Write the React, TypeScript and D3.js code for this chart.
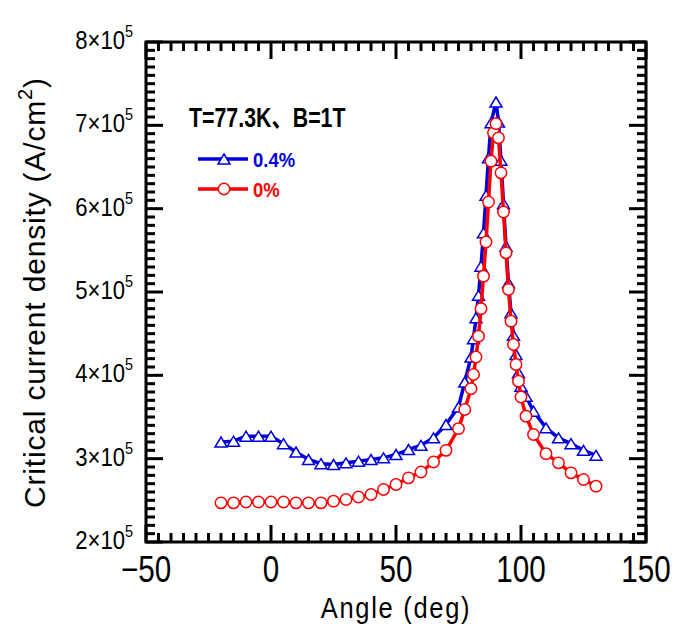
import React from "react";
import * as d3 from "d3";

// Series 0.4% (blue triangles), values in units of 10^5 A/cm^2
const angles04 = [-20, -15, -10, -5, 0, 5, 10, 15, 20, 25, 30, 35, 40, 45, 50, 55, 60, 65, 70, 75, 77.5, 80, 81, 82, 83, 84, 85, 86, 87, 88, 90, 91, 92, 93, 94, 95, 96, 97, 98, 99, 100, 102, 105, 110, 115, 120, 125, 130];
const jc04 = [3.20, 3.21, 3.27, 3.27, 3.27, 3.18, 3.08, 2.99, 2.94, 2.93, 2.95, 2.97, 2.99, 3.01, 3.05, 3.11, 3.16, 3.25, 3.41, 3.62, 3.92, 4.22, 4.44, 4.69, 4.96, 5.31, 5.71, 6.16, 6.61, 7.03, 7.28, 7.04, 6.58, 6.06, 5.55, 5.11, 4.75, 4.48, 4.25, 4.03, 3.87, 3.75, 3.57, 3.37, 3.25, 3.18, 3.10, 3.04];

// Series 0% (red circles)
const angles0 = [-20, -15, -10, -5, 0, 5, 10, 15, 20, 25, 30, 35, 40, 45, 50, 55, 60, 65, 70, 75, 77.5, 80, 81, 82, 83, 84, 85, 86, 87, 88, 89, 90, 91, 92, 93, 94, 95, 96, 97, 98, 99, 100, 102, 105, 110, 115, 120, 125, 130];
const jc0 = [2.47, 2.47, 2.48, 2.48, 2.48, 2.48, 2.47, 2.47, 2.47, 2.49, 2.51, 2.54, 2.57, 2.63, 2.69, 2.77, 2.84, 2.96, 3.10, 3.36, 3.59, 3.84, 4.01, 4.22, 4.47, 4.80, 5.19, 5.60, 6.08, 6.57, 6.91, 7.02, 6.85, 6.43, 5.96, 5.47, 5.03, 4.65, 4.37, 4.13, 3.93, 3.74, 3.51, 3.29, 3.06, 2.95, 2.83, 2.75, 2.67];

const xTicks = [-50, 0, 50, 100, 150];
const yTicks = [2, 3, 4, 5, 6, 7, 8];
const seriesLabels = ["0.4%", "0%"];
const annotation = "T=77.3K、B=1T";
const xTitle = "Angle (deg)";
const yTitleMain = "Critical current density (A/cm";
const yTitleSup = "2";
const yTitleEnd = ")";

const BLUE = "#0000d8";
const RED = "#ff0000";
const FONT = "'Liberation Sans Narrow', 'Liberation Sans', 'Noto Sans CJK JP', sans-serif";

const W = 681;
const H = 627;
const L = 146, R = 646, T = 42, B = 542;

export default function App() {
  const x = d3.scaleLinear().domain([-50, 150]).range([L, R]);
  const y = d3.scaleLinear().domain([2, 8]).range([B, T]);

  const line = d3.line<[number, number]>().x(d => x(d[0])).y(d => y(d[1]));
  const blueData: [number, number][] = angles04.map((a, i) => [a, jc04[i]]);
  const redData: [number, number][] = angles0.map((a, i) => [a, jc0[i]]);

  const xMinor = d3.range(-50, 150.001, 5);
  const yMinor = d3.range(2, 8.0001, 0.1);
  const isMajorX = (v: number) => Math.abs(v % 50) < 1e-6;
  const isMajorY = (v: number) => Math.abs(v - Math.round(v)) < 1e-6;

  const MAJ = 17, MIN = 9;

  const tri = (cx: number, cy: number, w = 12, h = 10) =>
    `M${cx},${cy - h / 2}L${cx + w / 2},${cy + h / 2}L${cx - w / 2},${cy + h / 2}Z`;

  return (
    <svg width={W} height={H} style={{ position: "absolute", left: 0, top: 0, background: "#fff" }}>
      <rect x={0} y={0} width={W} height={H} fill="#fff" />
      {/* ticks */}
      <g stroke="#000" strokeWidth={3}>
        {xMinor.map((v, i) => {
          const len = isMajorX(v) ? MAJ : MIN;
          const px = x(v);
          return (
            <g key={"xt" + i}>
              <line x1={px} x2={px} y1={B} y2={B - len} />
              <line x1={px} x2={px} y1={T} y2={T + len} />
            </g>
          );
        })}
        {yMinor.map((v, i) => {
          const len = isMajorY(v) ? MAJ : MIN;
          const py = y(v);
          return (
            <g key={"yt" + i}>
              <line x1={L} x2={L + len} y1={py} y2={py} />
              <line x1={R} x2={R - len} y1={py} y2={py} />
            </g>
          );
        })}
      </g>
      <rect x={L} y={T} width={R - L} height={B - T} fill="none" stroke="#000" strokeWidth={3} />

      {/* x tick labels */}
      {xTicks.map(v => (
        <text key={"xl" + v} transform={`translate(${x(v)},582) scale(0.8,1)`} textAnchor="middle" fontFamily={FONT} fontSize={37} fill="#000">
          {v < 0 ? "\u2212" + Math.abs(v) : String(v)}
        </text>
      ))}
      {/* y tick labels */}
      {yTicks.map(v => (
        <text key={"yl" + v} transform={`translate(133,${y(v) + 7}) scale(0.85,1)`} textAnchor="end" fontFamily={FONT} fontSize={26} fill="#000">
          <tspan>{v + "×10"}</tspan>
          <tspan dy={-12} fontSize={17}>5</tspan>
        </text>
      ))}

      {/* axis titles */}
      <text transform={`translate(${(L + R) / 2},618) scale(0.85,1)`} textAnchor="middle" fontFamily={FONT} fontSize={30} fill="#000"
        letterSpacing={2}>{xTitle}</text>
      <text transform={`translate(45,${(T + B) / 2 + 1}) rotate(-90)`} textAnchor="middle" fontFamily={FONT}
        fontSize={30} fill="#000" textLength={430} lengthAdjust="spacing">
        <tspan>{yTitleMain}</tspan>
        <tspan dy={-13} fontSize={20}>{yTitleSup}</tspan>
        <tspan dy={13}>{yTitleEnd}</tspan>
      </text>

      {/* series 0.4% */}
      <path d={line(blueData) || ""} fill="none" stroke={BLUE} strokeWidth={3.5} strokeLinejoin="round" />
      {blueData.map((d, i) => (
        <path key={"b" + i} d={tri(x(d[0]), y(d[1]))} fill="#fff" stroke={BLUE} strokeWidth={1.5} />
      ))}
      {/* series 0% */}
      <path d={line(redData) || ""} fill="none" stroke={RED} strokeWidth={3.5} strokeLinejoin="round" />
      {redData.map((d, i) => (
        <circle key={"r" + i} cx={x(d[0])} cy={y(d[1])} r={5.7} fill="#fff" stroke={RED} strokeWidth={1.5} />
      ))}

      {/* annotation */}
      <text transform="translate(189,127) scale(0.79,1)" fontFamily={FONT} fontWeight="bold" fontSize={27} fill="#000">{annotation}</text>

      {/* legend */}
      <line x1={198} x2={248} y1={159} y2={159} stroke={BLUE} strokeWidth={3.5} />
      <path d={tri(224, 159)} fill="#fff" stroke={BLUE} strokeWidth={1.5} />
      <text transform="translate(253,167) scale(0.88,1)" fontFamily={FONT} fontWeight="bold" fontSize={21} fill={BLUE}>{seriesLabels[0]}</text>
      <line x1={198} x2={248} y1={189} y2={189} stroke={RED} strokeWidth={3.5} />
      <circle cx={224} cy={189} r={5.7} fill="#fff" stroke={RED} strokeWidth={1.5} />
      <text transform="translate(253,197) scale(0.88,1)" fontFamily={FONT} fontWeight="bold" fontSize={21} fill={RED}>{seriesLabels[1]}</text>
    </svg>
  );
}
